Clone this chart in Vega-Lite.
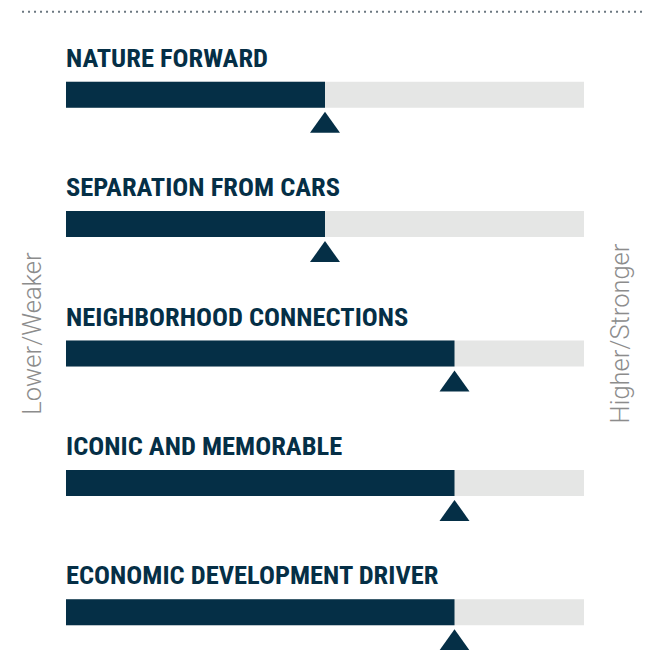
{
  "$schema": "https://vega.github.io/schema/vega-lite/v6.json",
  "width": 650,
  "height": 650,
  "autosize": {"type": "fit", "contains": "padding"},
  "padding": 0,
  "background": "white",
  "config": {"view": {"stroke": null}},
  "data": {"values": [
    {"name": "NATURE FORWARD", "value": 50, "min": 0, "max": 100},
    {"name": "SEPARATION FROM CARS", "value": 50, "min": 0, "max": 100},
    {"name": "NEIGHBORHOOD CONNECTIONS", "value": 75, "min": 0, "max": 100},
    {"name": "ICONIC AND MEMORABLE", "value": 75, "min": 0, "max": 100},
    {"name": "ECONOMIC DEVELOPMENT DRIVER", "value": 75, "min": 0, "max": 100}
  ]},
  "layer": [
    {
      "mark": {"type": "bar", "height": 26, "yOffset": 30, "color": "#e5e6e5"},
      "encoding": {
        "y": {"field": "name", "type": "nominal", "axis": null, "sort": null,
              "scale": {"domain": ["NATURE FORWARD", "SEPARATION FROM CARS", "NEIGHBORHOOD CONNECTIONS", "ICONIC AND MEMORABLE", "ECONOMIC DEVELOPMENT DRIVER"], "paddingInner": 0, "paddingOuter": 0}},
        "x": {"field": "min", "type": "quantitative", "axis": null, "scale": {"domain": [-12.741, 112.741], "nice": false, "zero": false}},
        "x2": {"field": "max"}
      }
    },
    {
      "mark": {"type": "bar", "height": 26, "yOffset": 30, "color": "#052f46"},
      "encoding": {
        "y": {"field": "name", "type": "nominal", "sort": null},
        "x": {"field": "min", "type": "quantitative"},
        "x2": {"field": "value"}
      }
    },
    {
      "mark": {"type": "point", "shape": "M0,-0.7L1,0.7L-1,0.7Z", "size": 900, "filled": true, "opacity": 1, "color": "#052f46", "yOffset": 57.5},
      "encoding": {
        "y": {"field": "name", "type": "nominal", "sort": null},
        "x": {"field": "value", "type": "quantitative"}
      }
    },
    {
      "mark": {"type": "text", "align": "left", "baseline": "alphabetic", "yOffset": 2, "font": "Roboto Condensed, Liberation Sans Narrow, DejaVu Sans Condensed, sans-serif", "fontWeight": "bold", "fontSize": 26.5, "color": "#052f46"},
      "encoding": {
        "y": {"field": "name", "type": "nominal", "sort": null},
        "x": {"field": "min", "type": "quantitative"},
        "text": {"field": "name"}
      }
    },
    {
      "data": {"values": [{"name": "NATURE FORWARD", "start": -8.49, "end": 111.8}]},
      "mark": {"type": "rule", "strokeDash": [2, 4], "strokeWidth": 2, "color": "#6b7780", "yOffset": -53},
      "encoding": {
        "y": {"field": "name", "type": "nominal", "sort": null},
        "x": {"field": "start", "type": "quantitative"},
        "x2": {"field": "end"}
      }
    },
    {
      "data": {"values": [
        {"name": "NEIGHBORHOOD CONNECTIONS", "pos": -6.37, "label": "Lower/Weaker"},
        {"name": "NEIGHBORHOOD CONNECTIONS", "pos": 107.1, "label": "Higher/Stronger"}
      ]},
      "mark": {"type": "text", "angle": 270, "align": "center", "baseline": "middle", "yOffset": 10, "font": "Roboto", "fontWeight": 300, "fontSize": 25.5, "color": "#8c8c8c"},
      "encoding": {
        "y": {"field": "name", "type": "nominal", "sort": null},
        "x": {"field": "pos", "type": "quantitative"},
        "text": {"field": "label"}
      }
    }
  ]
}
